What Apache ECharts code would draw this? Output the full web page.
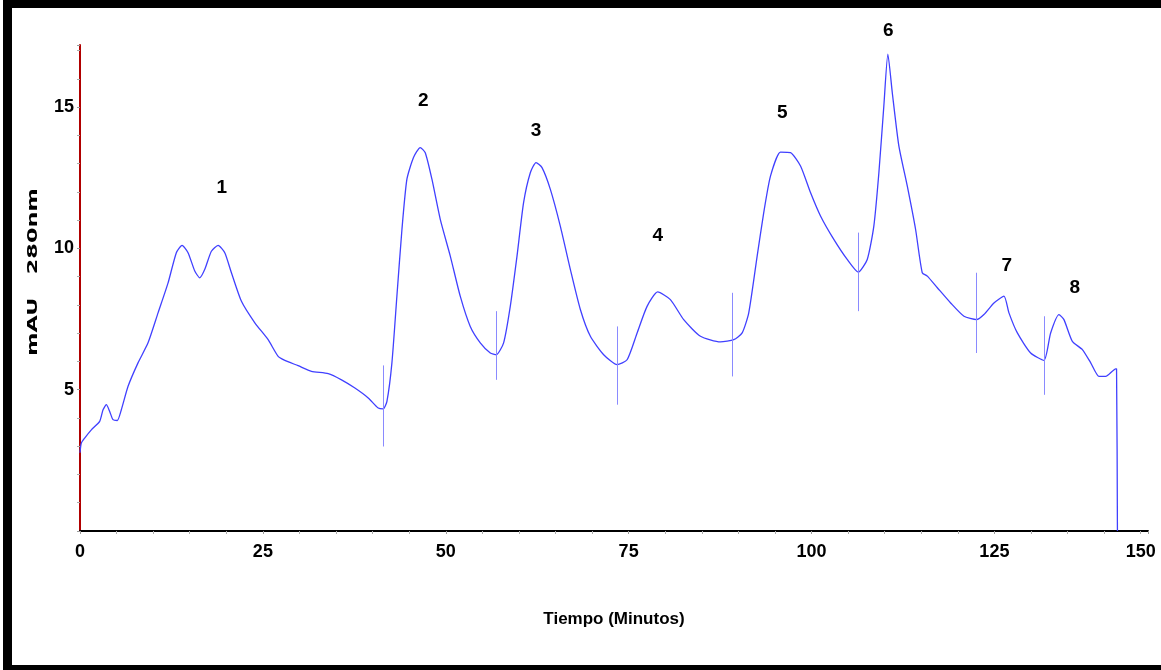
<!DOCTYPE html>
<html>
<head>
<meta charset="utf-8">
<script src="https://cdn.jsdelivr.net/npm/echarts@6/dist/echarts.min.js"></script>
<style>
  html, body { margin: 0; padding: 0; background: #fff; }
  #chart { width: 1161px; height: 670px; }
  #frame { position: absolute; left: 3px; top: 0; width: 1158px; height: 670px;
           box-sizing: border-box; border-left: 9px solid #000; border-top: 8px solid #000;
           border-bottom: 5px solid #000; pointer-events: none; }
</style>
</head>
<body>
<div id="chart"></div>
<div id="frame"></div>
<script>
// Chromatogram trace: time (min) and absorbance (mAU, 280 nm)
const timeMin = [0, 0.18, 0.64, 1.55, 2.69, 3.15, 3.60, 4.06, 4.51, 5.10, 5.65, 6.57, 7.93, 9.30, 10.67, 12.04, 13.17, 13.95, 14.77, 15.69,
  16.37, 17.06, 17.96, 18.88, 19.79, 20.70, 22.07, 23.90, 25.72, 27.09, 28.00, 29.82, 31.64, 33.93, 35.75, 37.58, 39.40, 40.77, 41.45, 41.96,
  42.64, 43.32, 44.01, 44.69, 45.59, 46.51, 47.20, 48.11, 49.25, 50.62, 51.98, 53.35, 54.72, 56.09, 56.91, 57.91, 58.82, 59.74, 60.64, 61.56,
  62.34, 63.16, 64.30, 65.66, 67.03, 68.40, 69.77, 71.59, 73.42, 74.79, 76.16, 77.52, 78.97, 80.71, 82.53, 84.82, 87.55, 89.37, 90.52, 91.42,
  92.57, 93.47, 94.39, 95.76, 97.13, 98.50, 99.86, 101.23, 103.05, 104.88, 106.39, 107.62, 108.52, 109.21, 109.89, 110.44, 111.04, 111.94, 113.09, 114.23,
  115.14, 115.83, 117.20, 119.02, 120.84, 122.57, 123.57, 124.94, 126.31, 126.99, 128.14, 129.96, 131.78, 132.69, 133.83, 134.51, 135.66, 137.03, 138.17, 139.30,
  140.22, 141.59, 141.70, 141.82];
const absMau = [2.77, 3.11, 3.29, 3.58, 3.88, 4.29, 4.47, 4.23, 3.94, 3.91, 4.29, 5.12, 5.95, 6.66, 7.72, 8.78, 9.85, 10.11, 9.85, 9.20,
  8.96, 9.26, 9.90, 10.11, 9.85, 9.14, 8.13, 7.37, 6.77, 6.18, 6.04, 5.85, 5.65, 5.57, 5.35, 5.06, 4.71, 4.35, 4.32, 4.59,
  5.95, 8.31, 10.67, 12.45, 13.22, 13.57, 13.39, 12.45, 11.03, 9.73, 8.31, 7.24, 6.66, 6.30, 6.24, 6.66, 7.95, 9.73, 11.62, 12.68,
  13.04, 12.86, 12.09, 10.79, 9.26, 7.84, 6.89, 6.24, 5.89, 6.06, 7.01, 7.95, 8.46, 8.19, 7.48, 6.89, 6.69, 6.77, 7.01, 7.72,
  9.73, 11.27, 12.56, 13.41, 13.39, 12.92, 11.98, 11.15, 10.32, 9.61, 9.16, 9.61, 10.79, 12.68, 15.05, 16.88, 15.52, 13.63, 12.21, 10.67,
  9.14, 9.02, 8.61, 8.07, 7.60, 7.48, 7.66, 8.07, 8.31, 7.72, 7.01, 6.30, 6.04, 7.01, 7.66, 7.48, 6.71, 6.42, 5.95, 5.47,
  5.47, 5.74, 5.74, 0];

// Integration (cut) markers: time, top and bottom in mAU
const cutTime = [41.45, 56.91, 73.46, 89.15, 106.39, 122.57, 131.87];
const cutTop = [5.86, 7.78, 7.24, 8.43, 10.56, 9.14, 7.60];
const cutBottom = [2.99, 5.35, 4.47, 5.47, 7.78, 6.30, 4.82];

// Peak numbers and label anchor positions (time, mAU)
const peakNames = ['1', '2', '3', '4', '5', '6', '7', '8'];
const peakTime = [19.38, 46.93, 62.35, 78.97, 96.0, 110.5, 126.7, 136.0];
const peakLabelY = [12.15, 15.22, 14.16, 10.44, 14.81, 17.71, 9.37, 8.61];

// Axis tick labels
const xTickValues = [0, 25, 50, 75, 100, 125, 145];
const xTickLabels = ['0', '25', '50', '75', '100', '125', '150'];
const yTickValues = [5, 10, 15];

const font = "'Liberation Sans', Arial, sans-serif";

const trace = timeMin.map((t, i) => [t, absMau[i]]);
const cuts = cutTime.map((t, i) => [{ coord: [t, cutTop[i]] }, { coord: [t, cutBottom[i]] }]);
const peaks = peakTime.map((t, i) => ({ value: [t, peakLabelY[i]], name: peakNames[i] }));
const xLabelMap = {};
xTickValues.forEach((v, i) => { xLabelMap[v] = xTickLabels[i]; });

const chart = echarts.init(document.getElementById('chart'));
chart.setOption({
  animation: false,
  backgroundColor: '#fff',
  grid: { left: 80, right: 13, top: 45, bottom: 139, containLabel: false },
  xAxis: {
    type: 'value', min: 0, max: 146, interval: 25,
    name: 'Tiempo (Minutos)', nameLocation: 'middle', nameGap: 80,
    nameTextStyle: { fontFamily: font, fontWeight: 'bold', fontSize: 17, color: '#000' },
    axisLine: { show: true, onZero: false, lineStyle: { color: '#000', width: 2 } },
    axisTick: { show: true, length: 3, lineStyle: { color: '#999' } },
    minorTick: { show: true, splitNumber: 5, length: 3, lineStyle: { color: '#aaa' } },
    splitLine: { show: false },
    axisLabel: {
      customValues: xTickValues,
      formatter: v => (xLabelMap[v] !== undefined ? xLabelMap[v] : ''),
      fontFamily: font, fontWeight: 'bold', fontSize: 18, color: '#000', margin: 12
    }
  },
  yAxis: {
    type: 'value', min: 0, max: 17.2, interval: 5,
    axisLine: { show: true, onZero: false, lineStyle: { color: '#b00000', width: 2 } },
    axisTick: { show: true, length: 3, lineStyle: { color: '#999' } },
    minorTick: { show: true, splitNumber: 5, length: 3, lineStyle: { color: '#aaa' } },
    splitLine: { show: false },
    axisLabel: {
      customValues: yTickValues,
      fontFamily: font, fontWeight: 'bold', fontSize: 18, color: '#000', margin: 6
    }
  },
  graphic: [{
    type: 'text', x: 33, y: 272, rotation: Math.PI / 2, scaleX: 1.6, scaleY: 1.05,
    style: { text: 'mAU   280nm', fill: '#000', font: "bold 14px 'DejaVu Sans'", align: 'center', verticalAlign: 'middle' }
  }],
  series: [
    {
      type: 'line', data: trace, showSymbol: false, symbol: 'none', silent: true,
      smooth: 0.2,
      lineStyle: { color: '#4040ff', width: 1.3 },
      markLine: {
        silent: true, symbol: ['none', 'none'], animation: false,
        label: { show: false },
        lineStyle: { color: '#8a8aff', width: 1, type: 'solid' },
        data: cuts
      }
    },
    {
      type: 'scatter', data: peaks, symbolSize: 0.1, clip: false, silent: true,
      itemStyle: { color: '#ffffff', opacity: 1 },
      label: {
        show: true, position: 'inside', formatter: p => p.name,
        fontFamily: font, fontWeight: 'bold', fontSize: 19, color: '#000000',
        textBorderWidth: 0, opacity: 1
      }
    }
  ]
});
</script>
</body>
</html>
